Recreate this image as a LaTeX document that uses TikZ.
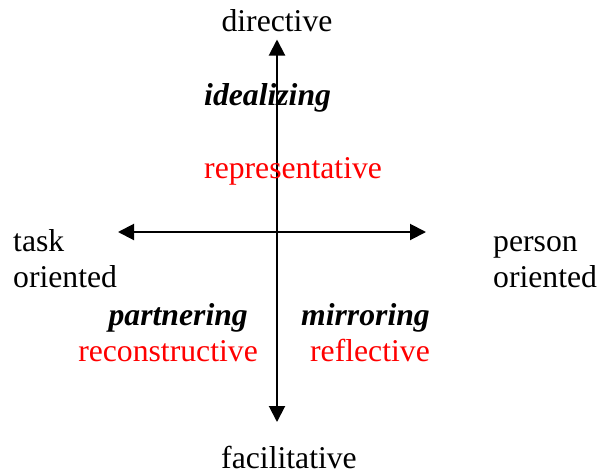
\documentclass[tikz,border=0pt]{standalone}
\usepackage{fontspec}
\setmainfont{Liberation Serif}
\usetikzlibrary{arrows.meta}
\tikzset{
  lbl/.style={inner sep=0pt, font=\fontsize{31.7}{36}\selectfont},
  bi/.style={lbl, font=\fontsize{31.7}{36}\selectfont\bfseries\itshape},
  redlbl/.style={lbl, text={rgb,255:red,255;green,0;blue,0}},
  axis/.style={line width=2pt, {Triangle[length=16pt,width=16pt]}-{Triangle[length=16pt,width=16pt]}}
}
\begin{document}
\begin{tikzpicture}[x=1pt,y=-1pt]
\useasboundingbox (0,0) rectangle (597,474);
\coordinate (top) at (277,39.5);
\coordinate (bot) at (277,422);
\coordinate (lft) at (118,232);
\coordinate (rgt) at (426,232);
\draw[axis] (bot) -- (top);
\draw[axis] (lft) -- (rgt);
\node[lbl, anchor=base] (dir) at (277,31) {directive};
\node[bi, anchor=base west] (ideal) at (204,105) {idealizing};
\node[redlbl, anchor=base west] (repr) at (204,178) {representative};
\node[lbl, anchor=base west] (task) at (13,251) {task};
\node[lbl, anchor=base west] (tor) at (13,287) {oriented};
\node[lbl, anchor=base west] (pers) at (493,251) {person};
\node[lbl, anchor=base west] (por) at (493,287) {oriented};
\node[bi, anchor=base east] (part) at (248,325) {partnering};
\node[redlbl, anchor=base east] (recon) at (258,361) {reconstructive};
\node[bi, anchor=base east] (mirr) at (430,325) {mirroring};
\node[redlbl, anchor=base east] (refl) at (430,361) {reflective};
\node[lbl, anchor=base, text depth=0pt] (fac) at (289,468.5) {facilitative};
\end{tikzpicture}
\end{document}
